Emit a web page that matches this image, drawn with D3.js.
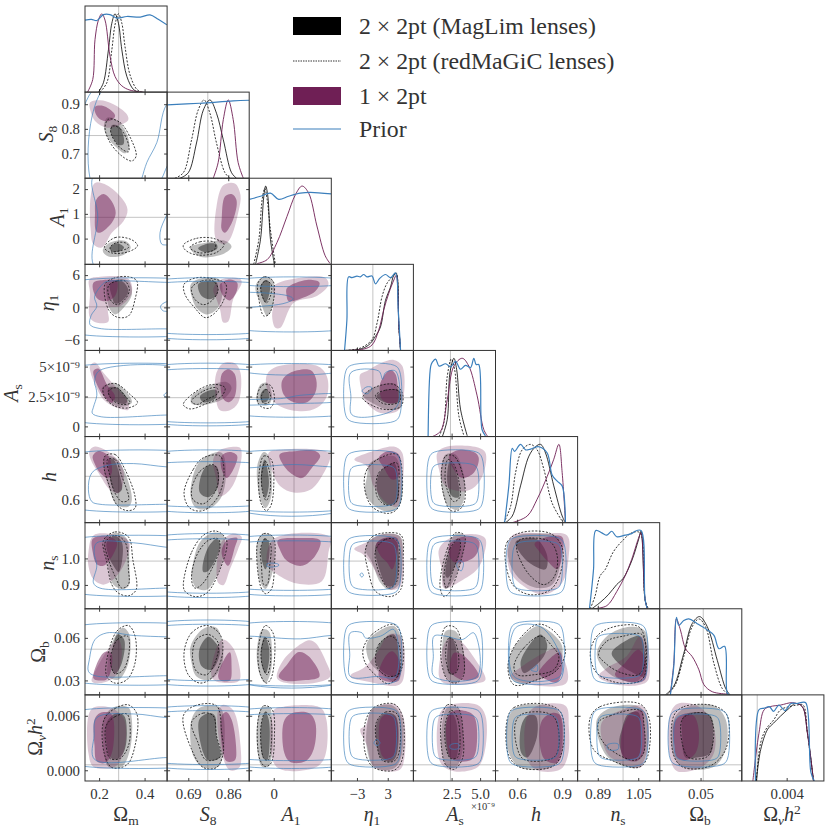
<!DOCTYPE html>
<html>
<head>
<meta charset="utf-8">
<script src="https://cdn.jsdelivr.net/npm/d3@7"></script>
<style>
body { margin: 0; background: #fff; }
text { font-family: "Liberation Serif", serif; fill: #333; }
</style>
</head>
<body>
<svg id="chart" width="830" height="830"></svg>
<script>
// axis ranges, one per parameter
const paramDomains = [[.138,.499],[.6,.949],[-1.04,2.44],[-8,8],[-.85,6.35],[.455,1.003],[.81,1.135],[.0198,.0805],[-.00118,.0083]]
const truthValues = [.286,.773,.86,.1,2.4,.75,.99,.052,.0006]

const xTicks = [[.2,.4],[.69,.86],[0],[-3,3],[2.5,5],[.6,.9],[.89,1.05],[.05],[.004]]
const xTickLabels = [["0.2","0.4"],["0.69","0.86"],["0"],["−3","3"],["2.5","5.0"],["0.6","0.9"],["0.89","1.05"],["0.05"],["0.004"]]
const yTicks = [[],[.7,.8,.9],[0,1,2],[-6,0,6],[0,2.5,5],[.6,.9],[.9,1],[.03,.06],[0,.006]]
const yTickLabels = [[],["0.7","0.8","0.9"],["0","1","2"],["−6","0","6"],["0","2.5×10⁻⁹","5×10⁻⁹"],["0.6","0.9"],["0.9","1.0"],["0.03","0.06"],["0.000","0.006"]]

const legendLabels = ["2 × 2pt (MagLim lenses)","2 × 2pt (redMaGiC lenses)","1 × 2pt","Prior"]

// 1D marginals, peak scaled to 1
const d1Om = [
  [[.197,.219,.241,.256,.27,.285,.3,.322,.351,.373],[0,.12,.54,.88,1,.88,.54,.2,.034,0]],
  [[.204,.234,.256,.27,.285,.3,.314,.336,.366,.388],[0,.12,.54,.86,1,.88,.58,.22,.034,0]],
  [[.149,.172,.182,.197,.212,.226,.248,.27,.3,.336,.395],[0,.16,.67,.92,1,.92,.46,.2,.08,.025,0]],
  [[.138,.166,.19,.219,.248,.278,.322,.381,.424,.46,.498],[.92,.93,.915,.99,.99,.945,.966,.958,.987,.93,.86]]]
const d1S8 = [
  [[.655,.69,.725,.754,.782,.81,.839,.874,.895],[0,.07,.45,.87,1,.83,.49,.07,0]],
  [[.633,.669,.704,.732,.757,.782,.81,.846,.867],[0,.07,.49,.87,1,.83,.45,.07,0]],
  [[.796,.817,.839,.86,.881,.902,.924],[0,.2,.75,1,.75,.2,0]],
  [[.6,.739,.881,.949],[.936,.958,.987,.996]]]
const d1A1 = [
  [[-.77,-.56,-.42,-.34,-.25,-.14,.03],[0,.32,.87,1,.87,.32,0]],
  [[-.85,-.63,-.49,-.38,-.28,-.14,.07],[0,.32,.83,.97,.83,.44,0]],
  [[-.7,-.28,.14,.56,.92,1.2,1.48,1.83,2.18,2.39],[.01,.06,.28,.61,.89,1,.91,.49,.11,.01]],
  [[-1.04,-.56,-.14,.21,.63,1.13,1.55,2.44],[.83,.87,.91,.83,.87,.91,.92,.9]]]
const d1Eta = [
  [[-5.29,-2.35,-.71,.6,1.58,2.56,3.54,4.19,4.65,5.17,5.5],[0,.017,.07,.18,.3,.64,.81,.96,.98,.3,0]],
  [[-5.29,-2.35,-.06,.92,1.9,2.88,4.19,4.65,5.17,5.5],[0,.03,.14,.35,.69,.86,.96,.99,.3,0]],
  [[-4.96,-1.69,-.06,1.25,2.23,3.2,4.19,4.65,5.17,5.5],[0,.017,.07,.26,.52,.73,.9,.96,.3,0]],
  [[-5.42,-4.96,-4.63,-3.98,-3,-2.35,-1.69,-1.04,-.06,.6,1.44,2.56,3.54,4.52,5.04,5.5],[0,.39,.94,.93,.95,.94,.97,.94,.95,.85,.92,.97,.93,.99,.52,0]]]
const d1As = [
  [[1.69,2.12,2.35,2.7,2.94,3.28,3.87],[0,.22,.81,1,.86,.35,.01]],
  [[1.4,1.83,2.12,2.47,2.76,3.14,3.58],[0,.18,.77,.99,.86,.26,.01]],
  [[.81,1.54,2.12,2.7,3.43,4.01,4.74,5.32,5.67],[0,.07,.47,.9,1,.9,.52,.09,0]],
  [[.44,.67,.81,1.1,1.4,1.98,2.41,2.85,3.28,3.72,4.16,4.45,4.65,4.88,5.17,5.47],[0,.9,.95,.99,.9,.93,.89,.96,.86,.91,.88,1,.92,.92,.09,.01]]]
const d1H = [
  [[.522,.567,.622,.678,.722,.756,.789,.844,.9,.922],[0,.085,.47,.85,.97,1,.89,.47,.085,0]],
  [[.511,.556,.589,.633,.689,.733,.778,.833,.9],[0,.21,.64,.93,1,.93,.68,.25,.02]],
  [[.567,.667,.733,.8,.844,.878,.9,.922],[0,.085,.3,.59,.81,1,.64,0]],
  [[.516,.544,.567,.582,.622,.656,.689,.744,.8,.833,.867,.9,.922],[0,.47,.95,.91,1,.93,.94,.97,.89,.61,.53,.47,0]]]
const d1Ns = [
  [[.866,.899,.932,.965,.991,1.024,1.051,1.061,1.077,1.086],[0,.08,.18,.31,.39,.61,.88,.99,.12,0]],
  [[.86,.879,.899,.919,.952,.991,1.024,1.057,1.077,1.09],[0,.16,.42,.5,.73,.88,.97,.97,.12,0]],
  [[.873,.926,.965,.998,1.024,1.051,1.061,1.077,1.086],[0,.04,.22,.42,.63,.9,.97,.12,0]],
  [[.857,.873,.882,.906,.926,.945,.965,.998,1.024,1.037,1.061,1.077,1.086],[0,.5,1,.97,.94,.99,.92,.94,.96,.99,1,.12,0]]]
const d1Ob = [
  [[.024,.0302,.0376,.0438,.0493,.055,.0624,.0686,.0718],[0,.11,.53,.91,1,.87,.44,.08,0]],
  [[.0252,.0314,.0376,.0438,.0488,.0537,.0599,.0661,.0711],[0,.13,.49,.87,.97,.87,.4,.08,0]],
  [[.0277,.0302,.0322,.0351,.0389,.0438,.0488,.0525,.0587,.0698],[.02,.4,.97,.83,.59,.49,.32,.13,.04,.01]],
  [[.0277,.0302,.0322,.0339,.0376,.0413,.0475,.055,.0599,.0636,.0678,.0698,.0718],[0,.36,.99,.89,.95,.97,.91,.83,.76,.59,.62,.02,0]]]
const d1On = [
  [[.0005,.001,.0018,.0025,.0033,.0043,.005,.0058,.0064,.0071],[0,.4,.66,.74,.83,.93,.99,.95,.61,0]],
  [[.0005,.001,.0016,.0025,.0033,.0043,.0052,.0059,.0064,.0071],[0,.49,.66,.78,.91,.95,.97,.97,.61,0]],
  [[.0001,.0008,.0014,.0021,.0033,.0047,.0058,.0064,.0071],[0,.61,.91,.95,.97,1,.95,.61,0]],
  [[.0004,.0008,.0014,.002,.0025,.0031,.0038,.0045,.0052,.0056,.0062,.0068,.0072],[0,.91,.93,.95,.89,.97,.9,.99,.99,1,1,.11,0]]]
const marginals = [d1Om,d1S8,d1A1,d1Eta,d1As,d1H,d1Ns,d1Ob,d1On]

// prior contour that is just a rounded box in the two parameters
function box(x0, x1, y0, y1) {
  let rx = (x1 - x0) * 0.1, ry = (y1 - y0) * 0.1
  return [[x0+rx,x1-rx,x1,x1,x1-rx,x0+rx,x0,x0],[y1,y1,y1-ry,y0+ry,y0,y0,y0+ry,y1-ry]]
}

// 2D contours: [MagLim 95, MagLim 68, redMaGiC 95, redMaGiC 68, 1x2pt 95, 1x2pt 68, [prior contours]]
const S8Om = [
  [[.237,.278,.319,.333,.314,.278,.237,.221],[.846,.836,.785,.724,.701,.724,.765,.812]],
  [[.256,.285,.307,.307,.285,.26,.25],[.815,.812,.772,.738,.735,.765,.792]],
  [[.241,.292,.344,.363,.344,.3,.248,.226],[.839,.826,.751,.69,.67,.69,.745,.805]],
  [[.263,.295,.329,.329,.292,.256,.251],[.812,.799,.738,.707,.724,.772,.799]],
  [[.16,.204,.263,.322,.328,.292,.234,.182,.162],[.907,.916,.9,.859,.836,.816,.805,.832,.873]],
  [[.182,.219,.263,.27,.241,.204,.182],[.89,.893,.866,.85,.831,.839,.868]],
  [[[.135,.185,.75,.55,.5,.476,.44],[.55,.97,.97,.72,.65,.6,.55]],
   [[.182,.226,.6,.498,.454,.41,.388,.37],[.55,.97,.97,.9,.745,.664,.6,.55]]]]
const A1Om = [
  [[.216,.248,.314,.339,.307,.241],[-.49,-.16,-.09,-.36,-.66,-.72]],
  [[.248,.278,.31,.285,.256],[-.36,-.19,-.36,-.53,-.52]],
  [[.223,.27,.344,.369,.329,.256],[-.36,.04,-.05,-.29,-.53,-.58]],
  [[.248,.278,.322,.329,.292,.256],[-.36,-.16,-.2,-.36,-.49,-.52]],
  [[.163,.182,.234,.3,.325,.307,.256,.212,.175,.163],[1.7,2.25,2.16,1.63,1.17,.7,.24,-.36,-.23,.37]],
  [[.187,.219,.256,.273,.256,.204,.187,.182],[1.56,1.8,1.5,1.03,.64,.24,.3,1.03]],
  [[[.18,.194,.185,.6,.6,.5,.475,.468,.5,.6],[2.6,.9,-1.2,-1.2,-.3,-.26,-.22,.24,1,2.6]]]]
const A1S8 = [
  [[.697,.768,.846,.874,.839,.74],[-.36,-.16,-.09,-.32,-.62,-.73]],
  [[.732,.775,.81,.813,.768],[-.4,-.2,-.23,-.4,-.56]],
  [[.669,.725,.796,.842,.81,.725,.676],[-.26,.01,.01,-.23,-.56,-.66,-.45]],
  [[.697,.74,.803,.803,.74],[-.36,-.13,-.16,-.42,-.58]],
  [[.808,.81,.839,.888,.912,.902,.867,.842],[-.03,1.3,2.16,2.23,1.76,1.03,-.03,-.23]],
  [[.832,.846,.874,.895,.881,.846,.832],[.77,1.7,1.8,1.56,.77,.24,.37]],
  []]
const EtaOm = [
  [[.234,.27,.329,.344,.307,.27,.248,.231],[4.6,5.2,4.9,2.4,-.1,-1.3,-.4,2.7]],
  [[.248,.285,.31,.329,.3,.27,.256],[4.3,5.1,4.6,3,1.15,.7,2.1]],
  [[.226,.263,.329,.366,.358,.329,.278,.241],[4.3,5.4,5.7,4.9,1.5,-1.6,-1.8,-.4]],
  [[.241,.278,.314,.333,.314,.278,.248],[4,4.9,4.9,3.3,1.5,.5,1.5]],
  [[.157,.204,.329,.344,.292,.241,.241,.197,.16,.16],[5.2,5.7,5.3,2.7,.2,-.1,-2.6,-2.9,-1.95,2.7]],
  [[.175,.219,.278,.27,.234,.197,.175],[4.6,5.1,4.9,2.1,1.15,1.45,3]],
  [box(.05,.7,-5,5),
   [[.24,.5,.6,.6,.5,.47,.48,.5,.6,.6,.5,.2,.16,.165,.19,.18,.22],[4.85,4.65,4.6,1,1.1,.2,-.6,-.75,-.8,-4.2,-4,-3.9,-3.2,-1.5,.2,2,4.5]]]]
const EtaS8 = [
  [[.701,.754,.825,.834,.81,.768,.725,.704],[4.3,5.5,5.1,2.1,-.4,-1.3,-.1,2.1]],
  [[.732,.768,.81,.813,.782,.747],[4.3,4.9,4.7,2.4,1.5,2.1]],
  [[.672,.725,.796,.85,.839,.796,.761,.718,.676],[4.3,5.5,5.3,4.3,1.2,-1.3,-1.9,-.1,2.4]],
  [[.704,.747,.796,.817,.789,.754,.718],[3.6,4.9,4.9,3.3,1.2,.5,1.5]],
  [[.796,.825,.91,.917,.881,.86,.839,.825,.81],[3.3,5.1,5.3,4.6,1.5,-2.6,-2.8,-.4,1.5]],
  [[.825,.867,.898,.893,.867,.839],[4.3,5.2,4.6,2.7,1.3,2.1]],
  [box(.5,1.05,-5.5,5),box(.5,1.05,-4.6,4.4)]]
const EtaA1 = [
  [[-.75,-.42,-.07,0,-.28,-.56,-.75],[4.3,5.7,5.2,.9,-1.6,.9,2.7]],
  [[-.56,-.35,-.17,-.21,-.35,-.52],[3.95,5.1,4.6,2.1,.85,2.4]],
  [[-.66,-.39,-.03,0,-.21,-.42,-.63],[4.6,5.7,4.9,1.5,-1.3,-1.6,1.5]],
  [[-.54,-.35,-.11,-.14,-.31,-.49],[3.95,4.9,4.3,2.1,.85,2.1]],
  [[0,1.13,2.18,2.32,1.83,.85,.28,.07,-.07,.03],[3.95,5.5,5.5,4.25,2.1,.85,-3.8,-3.8,-1.6,1.5]],
  [[.56,1.41,1.94,1.76,1.13,.63,.54],[3.6,5.1,4.6,3,1.6,1.15,2.4]],
  [box(-2,3.5,-4.1,5.2),box(-2,3.5,4.25,12),
   [[-2,.56,.82,.56,-.28,-2],[2.2,2.2,1.6,.9,.3,.3]]]]
const AsOm = [
  [[.212,.27,.329,.344,.292,.241],[3.23,3.6,2.67,1.97,1.63,2.1]],
  [[.241,.278,.325,.314,.27,.241],[3.23,3.23,2.25,1.88,2.1,2.67]],
  [[.219,.27,.336,.369,.329,.27,.226],[3.23,3.6,2.67,1.97,1.55,1.69,2.39]],
  [[.241,.278,.314,.336,.3,.256],[2.95,3.23,2.53,1.97,1.83,2.25]],
  [[.16,.182,.219,.27,.329,.329,.278,.219,.182,.163],[5.06,5.34,4.49,3.37,1.97,1.4,1.55,2.25,3.51,4.49]],
  [[.175,.197,.234,.27,.256,.226,.197],[4.63,4.83,3.51,2.53,1.97,2.39,3.23]],
  [box(.05,.7,.37,5.05),
   [[.6,.2,.18,.185,.19,.175,.17,.21,.5,.6,.6,.5,.485,.5,.6],[4.6,4.65,3.6,3.3,2.6,1.6,1.1,.8,.95,.95,2.45,2.4,2.6,2.85,3]]]]
const AsS8 = [
  [[.704,.768,.853,.874,.846,.768,.704],[2.53,3.31,3.71,3.23,2.39,1.83,1.91]],
  [[.74,.782,.81,.808,.754],[2.53,3.03,3.03,2.39,2.02]],
  [[.669,.725,.796,.846,.832,.768,.697],[1.83,2.95,3.51,3.23,2.53,1.91,1.46]],
  [[.704,.754,.81,.817,.768,.725],[2.11,2.95,3.23,2.81,2.25,1.83]],
  [[.808,.839,.888,.912,.902,.867,.825,.808],[4.35,5.28,5.28,4.49,1.97,1.35,1.35,2.25]],
  [[.832,.86,.888,.888,.86,.836],[4.35,4.78,4.35,2.53,2.02,2.39]],
  [box(.5,1.05,.28,5.05),box(.5,1.05,.5,4.63)]]
const AsA1 = [
  [[-.73,-.56,-.28,-.07,-.21,-.49,-.7],[2.53,3.5,3.65,2.53,1.83,1.77,1.97]],
  [[-.56,-.35,-.18,-.35,-.52],[2.67,3.15,2.53,2.02,2.11]],
  [[-.7,-.49,-.14,.03,-.14,-.42,-.63],[2.53,3.43,3.43,2.25,1.55,1.55,1.83]],
  [[-.52,-.32,-.14,-.21,-.42],[2.53,3.09,2.67,2.02,1.91]],
  [[-.28,.14,1.83,2.25,2.25,1.83,1.13,.14,-.28],[4.35,5,5.06,4.2,2.53,1.55,1.26,1.83,3.09]],
  [[.35,.7,1.55,1.8,1.76,1.41,.85,.42],[3.79,4.49,4.72,3.93,2.81,2.02,2.02,2.67]],
  [box(-2,3.5,.97,5.05),box(-2,3.5,4.63,12),
   [[-2,.42,1.13,3,3,.7,-2],[2.05,2.35,2.6,2.6,2.25,1.9,1.9]]]]
const AsEta = [
  [[-1.69,.27,4.19,5.63,5.5,2.9,-.06],[2.53,3.23,3.6,2.81,1.55,1.4,1.97]],
  [[.79,2.56,5.17,5.3,3.86,1.9],[2.53,3.03,3.03,2.11,1.91,2.11]],
  [[-1.89,.27,4.19,5.82,5.63,2.88,.27],[2.39,3.23,3.51,2.81,1.69,1.4,1.69]],
  [[.6,2.56,5.17,5.37,3.54,1.58],[2.59,3.03,2.95,2.11,1.83,2.02]],
  [[-2.35,-1.04,1.58,4.19,5.82,6,4.84,1.58,-1.37,-2.22],[4.35,4.63,5.28,5.56,5.06,2.25,1.26,1.12,2.11,3.23]],
  [[1.44,2.24,3.54,4.52,4.98,4.98,3.52,1.9],[3.37,4.21,4.72,4.35,2.81,2.11,1.91,2.25]],
  [box(-5.16,5.3,.42,5.11),
   [[-4.18,1.25,2,2.56,4.52,4.8,.27,-4,-4.18],[4.5,4.63,3.93,4.49,4.63,1.69,.84,.98,2.5]],
   [[-2.02,-1.04,-.06,-1.04],[2.95,3.31,3.23,2.72]]]]
const HOm = [
  [[.226,.27,.314,.344,.329,.278,.241,.222],[.879,.868,.772,.6,.557,.568,.686,.793]],
  [[.241,.263,.292,.3,.278,.256,.245],[.857,.857,.75,.664,.643,.686,.772]],
  [[.226,.27,.314,.358,.358,.322,.278,.241,.223],[.879,.889,.793,.622,.547,.532,.568,.707,.793]],
  [[.237,.27,.3,.329,.3,.27,.248],[.857,.857,.75,.6,.589,.643,.75]],
  [[.157,.182,.234,.292,.31,.285,.248,.197,.163],[.911,.939,.911,.836,.75,.643,.664,.772,.857]],
  [[.172,.197,.241,.256,.237,.204,.179],[.879,.911,.879,.772,.739,.772,.836]],
  [box(.05,.7,.54,.9),
   [[.6,.498,.351,.234,.168,.153,.168,.204,.498,.6],[.81,.81,.831,.819,.772,.664,.589,.572,.572,.572]]]]
const HS8 = [
  [[.725,.768,.832,.85,.832,.782,.725,.7],[.814,.879,.9,.772,.622,.547,.547,.622]],
  [[.74,.768,.81,.817,.775,.74],[.729,.814,.814,.686,.617,.643]],
  [[.672,.711,.754,.825,.842,.817,.754,.697],[.643,.793,.868,.879,.772,.622,.532,.547]],
  [[.704,.74,.796,.817,.808,.754,.711],[.664,.782,.825,.772,.664,.575,.6]],
  [[.796,.825,.91,.917,.902,.867,.825,.81],[.857,.917,.932,.889,.772,.664,.622,.729]],
  [[.832,.867,.898,.874,.853,.832],[.879,.904,.879,.772,.739,.793]],
  [box(.5,1.05,.536,.9),box(.5,1.05,.568,.83)]]
const HA1 = [
  [[-.7,-.42,-.21,-.07,-.14,-.35,-.56],[.814,.904,.879,.729,.6,.547,.6]],
  [[-.54,-.39,-.24,-.21,-.35,-.49],[.772,.857,.772,.686,.611,.664]],
  [[-.63,-.42,-.11,0,-.14,-.32,-.54],[.75,.879,.857,.686,.557,.532,.579]],
  [[-.52,-.35,-.17,-.17,-.32,-.46],[.75,.846,.772,.643,.596,.643]],
  [[-.21,.42,1.97,2.39,2.04,1.55,.85,.28,-.14],[.9,.921,.917,.889,.75,.664,.647,.686,.814]],
  [[.25,.99,1.76,1.97,1.62,1.2,.7,.35],[.889,.911,.911,.879,.804,.739,.772,.836]],
  [box(-2,3.5,.54,.9),
   [[-2,-1.04,.85,2.44,3.5,3.5,-2],[.804,.804,.825,.81,.81,.568,.568]]]]
const HEta = [
  [[-1.04,-.39,4.19,5.5,5.5,3.54,.6,-1.37],[.75,.836,.879,.793,.579,.525,.557,.643]],
  [[.92,1.9,4.19,4.98,4.84,2.88,1.25],[.729,.793,.836,.75,.589,.568,.622]],
  [[-1.56,-1.04,1.58,4.84,5.82,5.17,3.2,-.06],[.686,.793,.868,.889,.772,.557,.514,.557]],
  [[.73,1.25,2.88,4.71,5.17,4.5,2.56,.92],[.707,.772,.814,.836,.686,.579,.568,.622]],
  [[-3.52,.27,4.19,5.82,5.63,4.84,2.88,.27,-1.04],[.857,.911,.939,.9,.643,.557,.579,.686,.814]],
  [[1.25,3.2,5.17,5.17,3.86,2.23],[.868,.911,.889,.75,.729,.804]],
  [box(-5.16,5.3,.536,.9),box(-4.3,4.52,.568,.814)]]
const HAs = [
  [[1.63,1.98,2.85,3.58,3.58,3,2.12,1.63],[.814,.889,.889,.75,.6,.536,.568,.686]],
  [[2.12,2.35,2.76,3.14,3.14,2.56,2.18],[.772,.846,.804,.686,.617,.622,.686]],
  [[1.6,1.98,2.7,3.52,3.63,3.14,2.41,1.77],[.772,.879,.879,.75,.589,.536,.532,.643]],
  [[1.92,2.18,2.7,3.14,3.23,2.7,2.12],[.75,.857,.825,.718,.617,.589,.664]],
  [[1.25,2.12,4.88,5.47,5.32,4.59,3.58,1.98,1.4],[.9,.939,.932,.9,.772,.686,.654,.686,.793]],
  [[2.27,3.14,4.45,4.88,4.45,3.43,2.7],[.879,.917,.904,.868,.772,.739,.793]],
  [box(.52,5.17,.536,.904),box(.81,4.74,.568,.825)]]
const NsOm = [
  [[.226,.278,.322,.333,.329,.3,.263,.237],[1.074,1.097,1.074,.972,.895,.885,.901,.985]],
  [[.234,.27,.3,.3,.285,.263,.241],[1.062,1.085,1.062,.985,.949,.972,1.01]],
  [[.219,.27,.329,.348,.363,.329,.285,.256,.234],[1.068,1.1,1.081,.997,.882,.859,.869,.901,.985]],
  [[.226,.27,.314,.329,.329,.3,.27,.241],[1.059,1.087,1.062,.959,.901,.888,.933,.997]],
  [[.153,.175,.263,.333,.314,.263,.219,.175,.153],[1.023,1.087,1.09,1.062,.985,.921,.901,.921,.972]],
  [[.172,.234,.278,.263,.219,.19,.172],[1.074,1.085,1.062,1.017,.972,.978,1.023]],
  [box(.05,.7,.867,1.077),
   [[.6,.498,.351,.19,.178,.19,.175,.204,.498,.6],[1.035,1.042,1.059,1.059,1.023,.972,.908,.888,.888,.888]]]]
const NsS8 = [
  [[.711,.74,.796,.839,.846,.81,.768,.725,.704],[.985,1.062,1.097,1.087,1.036,.933,.882,.888,.933]],
  [[.751,.775,.81,.825,.81,.775,.754],[.972,1.042,1.074,1.055,1.004,.953,.949]],
  [[.669,.704,.754,.81,.853,.825,.768,.718,.676],[.901,1.023,1.087,1.103,1.068,.959,.869,.856,.876]],
  [[.704,.725,.775,.817,.825,.789,.747,.718],[.92,1.01,1.068,1.074,1.042,.959,.901,.888]],
  [[.81,.832,.881,.917,.902,.867,.839,.817],[.946,1.062,1.094,1.081,1.036,.959,.899,.908]],
  [[.832,.853,.898,.888,.86,.839],[1.029,1.068,1.077,1.042,.972,.997]],
  [box(.5,1.05,.863,1.083),box(.5,1.05,.878,1.065)]]
const NsA1 = [
  [[-.7,-.49,-.07,.03,-.14,-.35,-.56,-.7],[1.062,1.09,1.087,.997,.921,.885,.908,.985]],
  [[-.54,-.39,-.21,-.21,-.35,-.48],[1.036,1.074,1.062,.997,.959,.985]],
  [[-.68,-.42,-.03,.03,-.11,-.35,-.56],[1.062,1.094,1.081,.972,.882,.867,.895]],
  [[-.56,-.38,-.14,-.17,-.28,-.42,-.52],[1.036,1.074,1.055,.972,.901,.901,.972]],
  [[0,2.39,2.32,2.04,.99,.14,-.28],[1.074,1.081,1.023,.914,.905,.94,.979]],
  [[.17,1.13,1.97,1.76,1.2,.56,.25],[1.068,1.077,1.068,1.01,.972,.991,1.036]],
  [box(-2,3.5,.869,1.078),box(-2,3.5,.888,1.058),
   [[-.28,.2,.2,-.28],[.98,.978,.972,.97]]]]
const NsEta = [
  [[-1.37,-.06,2.88,5.5,5.82,5.17,3.2,1.58,-.06],[1.036,1.074,1.094,1.081,.985,.901,.882,.908,.985]],
  [[.6,2.23,4.52,5.17,4.32,2.88,1.58],[1.049,1.074,1.068,1.01,.901,.895,.946]],
  [[-1.37,-.06,2.88,5.63,6,5.5,3.54,.6,-.71],[1.029,1.081,1.097,1.087,.997,.882,.856,.876,.946]],
  [[.6,2.56,4.84,5.17,4.65,3.2,1.58],[1.029,1.072,1.068,.985,.908,.888,.933]],
  [[-3.52,-1.04,1.58,5.17,5.82,5.5,3.54,1.58,-.39,-1.9],[1.036,1.062,1.09,1.087,1.062,.895,.882,.921,.985,1.017]],
  [[.79,2.23,4.84,4.71,3.86,2.88,1.58],[1.055,1.077,1.077,1.01,.959,.985,1.01]],
  [box(-5.16,5.17,.869,1.078),box(-4.18,4.4,.888,1.059),
   [[-2.4,-2,-1.75,-2.1],[.94,.945,.935,.93]]]]
const NsAs = [
  [[1.69,2.12,2.85,3.58,3.43,2.56,1.98],[.933,1.023,1.094,1.087,1.01,.908,.885]],
  [[1.98,2.41,3.14,3.23,2.65,2.18],[.933,1.036,1.072,1.036,.959,.927]],
  [[1.48,2.12,2.85,3.63,3.43,2.27,1.83],[.895,1.036,1.097,1.087,1.01,.869,.856]],
  [[1.83,2.35,3.14,3.28,2.56,2.06],[.92,1.036,1.074,1.042,.946,.888]],
  [[1.4,2.56,4.74,5.47,5.32,4.74,3.28,1.83,1.63],[1.036,1.081,1.09,1.074,1.01,.959,.914,.888,.959]],
  [[2.27,3.14,4.45,4.94,4.59,3.43,2.56],[1.049,1.077,1.081,1.062,1.01,.985,.991]],
  [box(.52,5.12,.867,1.078),box(.81,4.74,.885,1.059),
   [[2.94,3.14,3.52,3.34],[.972,.991,.985,.953]]]]
const NsH = [
  [[.538,.578,.733,.867,.889,.833,.744,.633,.556],[1.036,1.081,1.094,1.081,.985,.901,.888,.914,.972]],
  [[.589,.667,.733,.8,.789,.711,.633],[1.062,1.077,1.072,1.01,.959,.972,1.01]],
  [[.522,.533,.622,.822,.9,.889,.822,.689,.578],[.985,1.062,1.097,1.094,1.042,.946,.882,.863,.895]],
  [[.596,.611,.711,.822,.867,.849,.778,.678],[1.036,1.068,1.077,1.062,1.01,.933,.901,.94]],
  [[.533,.567,.778,.933,.944,.9,.778,.644,.556],[1.036,1.087,1.094,1.087,1.01,.908,.863,.895,.946]],
  [[.716,.8,.9,.9,.867,.8,.744],[1.055,1.081,1.081,1.01,.959,.991,1.029]],
  [box(.54,.911,.867,1.078),box(.578,.889,.885,1.059)]]
const ObOm = [
  [[.248,.285,.307,.333,.329,.285,.241,.237],[.0529,.0647,.0671,.0624,.0423,.0305,.0328,.0423]],
  [[.256,.281,.31,.3,.27,.251],[.0494,.0624,.0588,.0423,.0347,.04]],
  [[.234,.278,.329,.358,.358,.322,.27,.234],[.0446,.0647,.0687,.0612,.0423,.0305,.0281,.0328]],
  [[.251,.281,.325,.333,.307,.27,.253],[.047,.0588,.0612,.0517,.0375,.0347,.04]],
  [[.168,.19,.256,.285,.3,.27,.204],[.0293,.0387,.0553,.0588,.0494,.0328,.0281]],
  [[.175,.219,.251,.256,.234,.197],[.0316,.0494,.0498,.04,.0309,.03]],
  [box(.05,.7,.0286,.0687),
   [[.6,.498,.351,.234,.182,.157,.153,.182,.498,.6],[.0605,.0607,.0617,.0635,.0588,.0446,.0364,.0333,.0333,.0333]]]]
const ObS8 = [
  [[.7,.754,.81,.836,.832,.782,.725,.704],[.0541,.0664,.0671,.0541,.04,.0305,.0328,.0423]],
  [[.737,.775,.806,.825,.79,.747],[.0517,.0607,.0565,.0505,.0375,.04]],
  [[.672,.704,.768,.825,.836,.796,.74,.69],[.0494,.0635,.0687,.0624,.0494,.0328,.0281,.034]],
  [[.708,.725,.775,.817,.803,.768,.725],[.047,.0588,.0624,.0565,.0423,.034,.0364]],
  [[.789,.803,.836,.881,.912,.902,.81],[.0328,.0494,.0588,.0529,.0328,.0293,.0293]],
  [[.817,.842,.867,.874,.867,.827],[.0328,.0446,.0498,.04,.03,.03]],
  [box(.5,1.05,.0281,.0705),box(.5,1.05,.0316,.0678)]]
const ObA1 = [
  [[-.7,-.49,-.21,-.07,-.14,-.35,-.56,-.7],[.0541,.0659,.0647,.0494,.0352,.0281,.0328,.0423]],
  [[-.54,-.39,-.21,-.21,-.35,-.49],[.0517,.0607,.0541,.0423,.0347,.04]],
  [[-.66,-.35,-.03,.03,-.14,-.32,-.56],[.0517,.0687,.0635,.0446,.0305,.0281,.034]],
  [[-.54,-.35,-.17,-.14,-.28,-.45],[.0494,.06,.0553,.0423,.034,.0387]],
  [[.14,.42,1.48,1.76,2.18,2.39,1.83,.56],[.0316,.0446,.0583,.0565,.0446,.0328,.0286,.0281]],
  [[.21,.56,1.06,1.48,1.94,1.13,.42],[.0328,.0411,.05,.047,.0328,.03,.03]],
  [box(-2,3.5,.0281,.0695),
   [[-2,-1.04,1.13,2.44,3.5,3.5,-2],[.0612,.0612,.0593,.0617,.0617,.0328,.0328]]]]
const ObEta = [
  [[-1.04,1.25,4.19,5.5,5.63,4.19,1.58,-.71],[.0565,.0647,.0683,.0612,.0352,.0293,.0352,.0446]],
  [[.6,1.58,4.19,5.17,5.17,2.88,1.25],[.0446,.0565,.0624,.0494,.0328,.034,.0387]],
  [[-1.82,-.06,4.19,5.82,5.63,3.2,.92,-1.37],[.0517,.0624,.0695,.06,.0375,.0276,.0328,.0423]],
  [[.6,1.25,3.54,5.04,5.17,3.2,1.25],[.0434,.0553,.0612,.0565,.0352,.0328,.0375]],
  [[-4.18,-1.69,.92,3.2,5.5,6,4.84,-1.04,-4.18],[.034,.0387,.0494,.0624,.0612,.0305,.0264,.0293,.0323]],
  [[1.25,2.56,3.86,5.17,5.17,2.88],[.0328,.047,.0505,.0446,.03,.0293]],
  [box(-5.16,5.3,.0288,.0699),
   [[-4.3,-2,-1.37,1.58,4.19,4.52,1,-4.3,-4.4],[.0635,.0635,.06,.0612,.0659,.0328,.0328,.0328,.048]]]]
const ObAs = [
  [[1.69,1.98,2.85,3.58,3.58,2.85,1.98],[.0446,.0647,.0647,.0494,.0352,.0281,.0328]],
  [[2.12,2.35,2.76,3,2.85,2.27,2.12],[.0494,.0607,.0565,.0446,.0352,.0347,.0423]],
  [[1.54,1.98,2.85,3.52,3.52,2.85,2.12],[.0494,.0678,.0671,.0494,.0328,.0281,.0305]],
  [[1.98,2.27,2.76,3.14,2.85,2.41],[.047,.06,.0577,.0423,.0352,.0347]],
  [[1.4,2.12,3.14,4.59,5.47,4.88,1.83],[.0328,.0588,.0583,.0446,.0305,.0281,.0281]],
  [[2.35,2.7,3.43,4.88,3.58,2.47],[.04,.0494,.0482,.0328,.03,.0352]],
  [box(.52,5.03,.0288,.0699),
   [[.96,1.98,3.43,4.45,4.74,.96,.9],[.0612,.0612,.0588,.0635,.0328,.0328,.047]]]]
const ObH = [
  [[.544,.6,.733,.8,.9,.867,.744,.6,.544],[.0446,.0565,.0683,.0659,.0541,.0375,.0305,.0281,.0352]],
  [[.622,.667,.756,.8,.778,.689,.644],[.0423,.0529,.0624,.0553,.047,.0375,.0352]],
  [[.538,.589,.733,.833,.922,.867,.733,.578],[.04,.0553,.0695,.0659,.0517,.0375,.0305,.0269]],
  [[.578,.644,.756,.833,.878,.844,.711,.6],[.04,.0529,.0612,.0541,.047,.0375,.034,.034]],
  [[.556,.633,.778,.867,.922,.938,.911,.689],[.0328,.04,.0494,.0529,.0423,.0305,.0269,.0269]],
  [[.744,.822,.884,.9,.867,.778],[.0352,.0458,.0498,.04,.0288,.0316]],
  [box(.556,.9,.0288,.0702),
   [[.589,.756,.889,.884,.578],[.0671,.0678,.047,.0328,.0328]],
   [[.711,.733,.733,.689],[.0387,.0411,.0364,.0375]]]]
const ObNs = [
  [[.886,.926,1.018,1.077,1.083,1.044,.965,.906],[.0494,.0612,.0678,.0647,.04,.0293,.0316,.04]],
  [[.945,.991,1.057,1.077,1.077,1.018,.965],[.0494,.0569,.0612,.0494,.0328,.0364,.0434]],
  [[.86,.893,.978,1.057,1.083,1.064,.978,.886],[.0494,.0624,.0687,.0671,.0423,.0305,.0281,.0352]],
  [[.893,.926,.991,1.064,1.077,1.051,.978,.919],[.0482,.0577,.0612,.0624,.0423,.034,.0357,.0423]],
  [[.893,.926,1.004,1.057,1.083,1.09,1.057,.965],[.0328,.0387,.047,.0612,.0565,.0305,.0269,.0269]],
  [[.958,.998,1.051,1.073,1.077,1.018],[.034,.0423,.0517,.047,.0305,.0288]],
  [box(.87,1.08,.0293,.0695),box(.886,1.064,.0328,.0619)]]
const OnOm = [
  [[.226,.27,.329,.344,.336,.3,.241,.222],[.006,.007,.0069,.0056,.0023,.0004,.0004,.0019]],
  [[.234,.278,.31,.322,.31,.278,.248,.234],[.0053,.0063,.006,.0041,.0021,.0012,.0014,.0027]],
  [[.222,.27,.329,.366,.358,.322,.256,.222],[.0056,.0068,.0072,.0062,.0027,.0006,.0003,.0019]],
  [[.231,.27,.322,.336,.329,.292,.248,.231],[.0049,.0059,.0062,.0049,.0027,.0013,.0013,.0027]],
  [[.153,.175,.248,.31,.307,.27,.175,.153],[.006,.0069,.0069,.0056,.0019,.0004,.0004,.0019]],
  [[.18,.204,.248,.263,.256,.226,.19,.18],[.0056,.0063,.0063,.0056,.0019,.0008,.001,.0027]],
  [box(.05,.7,.0005,.0066),
   [[.6,.498,.351,.19,.178,.18,.498,.6],[.0058,.0058,.0062,.0058,.0038,.0012,.0014,.0014]]]]
const OnS8 = [
  [[.704,.74,.825,.842,.839,.817,.754,.711],[.0056,.0069,.0069,.0056,.0019,.0004,.0003,.0016]],
  [[.737,.782,.803,.81,.825,.775,.754],[.0056,.0063,.006,.0038,.0014,.0011,.0019]],
  [[.669,.718,.81,.832,.839,.81,.754,.704],[.006,.0071,.0071,.0041,.0019,.0003,.0003,.0023]],
  [[.704,.754,.796,.81,.828,.796,.761,.732],[.0053,.0063,.006,.0038,.0016,.0011,.0012,.003]],
  [[.817,.839,.881,.912,.907,.867,.832],[.0066,.0072,.0066,.0027,.0003,0,.0019]],
  [[.832,.853,.874,.893,.888,.853,.836],[.006,.0064,.0056,.0027,.0011,.001,.0023]],
  [box(.5,1.05,.0004,.0068),box(.5,1.05,.0009,.0063)]]
const OnA1 = [
  [[-.68,-.49,-.17,-.07,-.07,-.21,-.49,-.68],[.0056,.0069,.0069,.0053,.0019,.0005,.0004,.0019]],
  [[-.54,-.35,-.21,-.18,-.28,-.45],[.0049,.0064,.0056,.0027,.0011,.0014]],
  [[-.66,-.42,-.07,.03,-.11,-.35,-.59],[.0056,.0071,.0067,.0038,.0008,.0004,.0012]],
  [[-.54,-.35,-.14,-.11,-.24,-.42],[.0049,.0064,.0058,.0027,.0011,.0013]],
  [[0,.42,1.97,2.23,2.18,1.83,.42,0],[.0066,.007,.0069,.0056,.0016,.0004,0,.0008]],
  [[.42,.7,1.48,1.76,1.69,1.34,.7,.45],[.0053,.0062,.0063,.0053,.0023,.001,.0009,.0019]],
  [box(-2,3.5,.0005,.0066),box(-2,3.5,.0013,.006)]]
const OnEta = [
  [[-1.04,-.06,3.54,5.63,5.5,3.86,.27,-1.04],[.0049,.0067,.0072,.006,.0012,.0001,.0004,.0023]],
  [[.92,2.56,4.52,4.84,3.86,1.9,.92],[.0053,.0063,.006,.0019,.001,.0012,.0027]],
  [[-1.37,.27,4.19,5.82,5.7,4.19,.27,-1.37],[.0053,.0069,.0073,.006,.001,0,.0003,.0019]],
  [[.79,2.56,4.84,5.17,4.19,1.9,.92],[.0053,.0064,.0062,.0019,.001,.0011,.0027]],
  [[-2.35,-1.37,-.06,4.19,6,5.82,4.52,.27,-1.04],[.0045,.0049,.0067,.0073,.006,.0004,-.0001,.0004,.0027]],
  [[1.58,2.88,4.52,4.52,3.2,1.9],[.0056,.0062,.0058,.0019,.0011,.0016]],
  [box(-5.16,5.17,.0006,.0067),box(-4.18,4.37,.0013,.0061),
   [[.3,.9,1.5,.9],[.003,.0034,.003,.0027]]]]
const OnAs = [
  [[1.69,2.12,3,3.43,3.43,2.85,2.12,1.63],[.0053,.0069,.0069,.0049,.0019,.0003,.0004,.0023]],
  [[1.98,2.47,2.85,3.08,2.85,2.35,2.03],[.0049,.0064,.0056,.0027,.0013,.0014,.0027]],
  [[1.6,2.12,3.05,3.52,3.43,2.7,1.98,1.6],[.0056,.0072,.0069,.0038,.0012,.0001,.0006,.0027]],
  [[1.98,2.47,3,3.23,3,2.41,1.98],[.0053,.0066,.0058,.0027,.0014,.0013,.0027]],
  [[1.4,2.12,4.74,5.47,5.38,4.74,2.7,1.54],[.006,.0071,.0072,.006,.0019,.0003,-.0001,.0008]],
  [[2.18,2.85,4.3,4.65,4.59,4.16,2.56,2.12],[.006,.0066,.0062,.0053,.0019,.0011,.0012,.0027]],
  [box(.52,5.09,.0006,.0067),box(.96,4.74,.0013,.006),
   [[2.4,3.1,3.1,2.4],[.0028,.0029,.0024,.0024]]]]
const OnH = [
  [[.533,.589,.778,.878,.889,.833,.622,.544],[.0053,.0069,.0072,.0064,.0019,.0004,.0003,.0019]],
  [[.627,.667,.722,.733,.667,.627],[.0049,.006,.006,.0038,.0014,.0019]],
  [[.533,.578,.778,.889,.907,.844,.622,.544],[.0056,.0069,.0073,.0064,.0027,.0005,.0003,.0016]],
  [[.589,.633,.8,.856,.878,.844,.644,.596],[.0053,.0062,.0063,.0056,.0027,.0014,.0012,.0027]],
  [[.656,.711,.922,.944,.938,.889,.733,.667],[.0053,.0069,.0071,.0049,.0016,.0001,0,.0012]],
  [[.76,.833,.889,.9,.867,.778],[.0053,.0063,.006,.0019,.0008,.0013]],
  [box(.544,.9,.0006,.0067),box(.578,.867,.0013,.006)]]
const OnNs = [
  [[.886,.926,1.044,1.083,1.083,1.05,.939,.893],[.0056,.0067,.0071,.006,.0019,.0003,.0012,.0034]],
  [[.985,1.01,1.05,1.06,1.05,1,.975],[.0045,.0062,.0064,.004,.0015,.0013,.003]],
  [[.86,.899,1.057,1.094,1.083,1.05,.952,.873],[.0058,.007,.0073,.0056,.0012,.0003,.001,.0023]],
  [[.893,.939,1.057,1.073,1.071,1.037,.939,.897],[.0053,.006,.0066,.0049,.0019,.0011,.0023,.0038]],
  [[.906,.991,1.064,1.09,1.083,1.057,.952,.919],[.0053,.0067,.0071,.0056,.0016,.0003,.0012,.0023]],
  [[.985,1.018,1.064,1.073,1.073,1.044,.991],[.0041,.0062,.0066,.0053,.0019,.001,.0014]],
  [box(.87,1.08,.0006,.0067),box(.893,1.057,.0013,.006),
   [[.928,.97,.97,.93],[.0028,.0029,.0023,.0023]]]]
const OnOb = [
  [[.0302,.0389,.0599,.0686,.0686,.0599,.0376,.0302],[.0056,.0069,.0071,.0056,.0023,.0004,.0003,.0016]],
  [[.0376,.05,.0574,.0594,.0574,.0475,.0389,.0364],[.006,.0064,.006,.0038,.0019,.0014,.0014,.0038]],
  [[.0302,.0376,.0599,.0698,.0686,.0574,.0376,.0302],[.006,.007,.0071,.006,.0023,.0005,.0003,.0016]],
  [[.0364,.0426,.055,.0594,.0587,.055,.0413,.0364],[.0056,.0062,.0062,.0049,.0027,.0015,.0014,.003]],
  [[.0272,.0327,.0475,.0587,.0599,.05,.0327,.0277],[.006,.0073,.0071,.0053,.0019,.0003,-.0001,.0012]],
  [[.0307,.0376,.045,.0488,.0463,.0389,.0327,.0307],[.0053,.0062,.006,.0041,.0019,.0011,.0014,.0027]],
  [box(.0277,.0698,.0006,.0066),box(.0314,.0636,.0012,.006)]]

// rows from S8 down, columns from Omega_m right
const panelRows = [
  [S8Om],
  [A1Om,A1S8],
  [EtaOm,EtaS8,EtaA1],
  [AsOm,AsS8,AsA1,AsEta],
  [HOm,HS8,HA1,HEta,HAs],
  [NsOm,NsS8,NsA1,NsEta,NsAs,NsH],
  [ObOm,ObS8,ObA1,ObEta,ObAs,ObH,ObNs],
  [OnOm,OnS8,OnA1,OnEta,OnAs,OnH,OnNs,OnOb]
]

const black = "#000"
const purple = "#6f1f55"
const blue = "#3b7fbc"

let svg = d3.select("#chart")
let left = 85, top_ = 6, cellW = 82.1, cellH = 86.11

let xScales = paramDomains.map(d => d3.scaleLinear().domain(d).range([0, cellW]))
let yScales = paramDomains.map(d => d3.scaleLinear().domain(d).range([cellH, 0]))
let peakScale = d3.scaleLinear().domain([0, 1.1]).range([cellH, 0])

function styleAxis(g) {
  g.select(".domain").remove()
  g.selectAll("line").attr("stroke", "#111").attr("stroke-width", 0.8)
}

function drawAxes(cell, col, row, diag) {
  let bottom = row === 8
  let xa = d3.axisBottom(xScales[col]).tickValues(xTicks[col]).tickSize(-3).tickPadding(7.5)
    .tickFormat((d, i) => bottom ? xTickLabels[col][i] : "")
  cell.append("g").attr("transform", `translate(0,${cellH})`).call(xa).call(styleAxis)
  if (!diag) {
    let xb = d3.axisTop(xScales[col]).tickValues(xTicks[col]).tickSize(-3).tickFormat("")
    cell.append("g").call(xb).call(styleAxis)
    let ya = d3.axisLeft(yScales[row]).tickValues(yTicks[row]).tickSize(-3).tickPadding(5)
      .tickFormat((d, i) => col === 0 ? yTickLabels[row][i] : "")
    cell.append("g").call(ya).call(styleAxis)
    let yb = d3.axisRight(yScales[row]).tickValues(yTicks[row]).tickSize(-3).tickFormat("")
    cell.append("g").attr("transform", `translate(${cellW},0)`).call(yb).call(styleAxis)
  }
  cell.selectAll(".tick text").style("font-family", '"Liberation Serif", serif').style("font-size", "14.8px").attr("fill", "#333")
}

function truth(cell, col, row, diag) {
  cell.append("line").attr("x1", xScales[col](truthValues[col])).attr("x2", xScales[col](truthValues[col]))
    .attr("y1", 0).attr("y2", cellH).attr("stroke", "#aaa").attr("stroke-width", 0.7)
  if (!diag) {
    cell.append("line").attr("y1", yScales[row](truthValues[row])).attr("y2", yScales[row](truthValues[row]))
      .attr("x1", 0).attr("x2", cellW).attr("stroke", "#aaa").attr("stroke-width", 0.7)
  }
}

// diagonal
marginals.forEach((series, i) => {
  let cell = svg.append("g").attr("transform", `translate(${left + i * cellW},${top_ + i * cellH})`)
  cell.append("clipPath").attr("id", `clip-d${i}`).append("rect").attr("width", cellW).attr("height", cellH)
  truth(cell, i, i, true)
  let body = cell.append("g").attr("clip-path", `url(#clip-d${i})`)
  let line = d3.line().x(d => xScales[i](d[0])).y(d => peakScale(d[1])).curve(d3.curveCatmullRom.alpha(0.5))
  let styles = [[black, 0.8, null], [black, 0.8, "2,1.5"], [purple, 0.9, null], [blue, 1.2, null]]
  series.forEach((s, k) => {
    body.append("path")
      .attr("d", line(d3.zip(s[0], s[1])))
      .attr("fill", "none")
      .attr("stroke", styles[k][0])
      .attr("stroke-width", styles[k][1])
      .attr("stroke-dasharray", styles[k][2])
  })
  drawAxes(cell, i, i, true)
})

// off diagonal
panelRows.forEach((rowPanels, r) => {
  let row = r + 1
  rowPanels.forEach((panel, col) => {
    let cell = svg.append("g").attr("transform", `translate(${left + col * cellW},${top_ + row * cellH})`)
    let id = `clip-${row}-${col}`
    cell.append("clipPath").attr("id", id).append("rect").attr("width", cellW).attr("height", cellH)
    truth(cell, col, row, false)
    let body = cell.append("g").attr("clip-path", `url(#${id})`)
    let outline = d3.line()
      .x(d => xScales[col](d[0]))
      .y(d => yScales[row](d[1]))
      .curve(d3.curveCatmullRomClosed.alpha(0.5))
    let toPath = c => outline(d3.zip(c[0], c[1]))

    let filled = (c, color, alpha) => body.append("path").attr("d", toPath(c)).attr("fill", color).attr("fill-opacity", alpha)
    let dashed = c => body.append("path").attr("d", toPath(c)).attr("fill", "none")
      .attr("stroke", "#111").attr("stroke-width", 0.8).attr("stroke-dasharray", "2,1.5")

    filled(panel[0], black, 0.26)
    filled(panel[1], black, 0.42)
    filled(panel[4], purple, 0.25)
    filled(panel[5], purple, 0.5)
    dashed(panel[2])
    dashed(panel[3])
    panel[6].forEach(c => {
      body.append("path").attr("d", toPath(c)).attr("fill", "none")
        .attr("stroke", blue).attr("stroke-width", 1).attr("stroke-opacity", 0.65)
    })
    drawAxes(cell, col, row, false)
  })
})

// frames on top
d3.range(9).forEach(row => {
  d3.range(row + 1).forEach(col => {
    svg.append("rect")
      .attr("x", left + col * cellW).attr("y", top_ + row * cellH)
      .attr("width", cellW).attr("height", cellH)
      .attr("fill", "none").attr("stroke", "#333").attr("stroke-width", 1)
  })
})

// axis titles, parts are [text, kind]
const xTitles = [
  [["Ω",""],["m","sub"]],
  [["S","i"],["8","sub"]],
  [["A","i"],["1","sub"]],
  [["η","i"],["1","sub"]],
  [["A","i"],["s","sub"]],
  [["h","i"]],
  [["n","i"],["s","sub"]],
  [["Ω",""],["b","sub"]],
  [["Ω",""],["ν","subi"],["h","i"],["2","sup"]]
]
const xTitleCenters = [126,208,291,372,455,536,618,700,782]
const yTitleSpots = [null,[53,134],[64,217],[54,303],[18,393],[56,477],[54,563],[45,652],[42,737]]

function mathText(g, parts) {
  let t = g.append("text").attr("text-anchor", "middle").style("font-size", "20px")
  parts.forEach((p, k) => {
    let s = t.append("tspan").text(p[0])
    if (p[1] === "i" || p[1] === "subi") s.style("font-style", "italic")
    if (p[1] === "sub" || p[1] === "subi") s.style("font-size", "13.5px").attr("dy", 4)
    else if (p[1] === "sup") s.style("font-size", "13.5px").attr("dy", -7)
    else if (k > 0 && parts[k - 1][1].startsWith("sub")) s.attr("dy", -4)
  })
  return t
}

xTitles.forEach((parts, i) => {
  mathText(svg.append("g").attr("transform", `translate(${xTitleCenters[i]},821)`), parts)
  if (yTitleSpots[i]) {
    mathText(svg.append("g").attr("transform", `translate(${yTitleSpots[i][0]},${yTitleSpots[i][1]}) rotate(-90)`), parts)
  }
})

svg.append("text").attr("x", 483).attr("y", 810).attr("text-anchor", "middle").style("font-size", "10.5px").text("×10⁻⁹")

// legend
let legend = svg.append("g")
const legendRows = [26, 61, 96, 129]
legendLabels.forEach((label, i) => {
  let y = legendRows[i]
  if (i === 0 || i === 2) {
    legend.append("rect").attr("x", 293).attr("y", y - 9).attr("width", 48).attr("height", 18)
      .attr("fill", i === 0 ? black : purple)
  } else {
    legend.append("line").attr("x1", 293).attr("x2", 341).attr("y1", y).attr("y2", y)
      .attr("stroke", i === 1 ? black : blue).attr("stroke-width", i === 1 ? 0.8 : 1.2)
      .attr("stroke-dasharray", i === 1 ? "1.5,1" : null)
  }
  legend.append("text").attr("x", 359).attr("y", y + 8).style("font-size", "23.8px").text(label)
})
</script>
</body>
</html>
